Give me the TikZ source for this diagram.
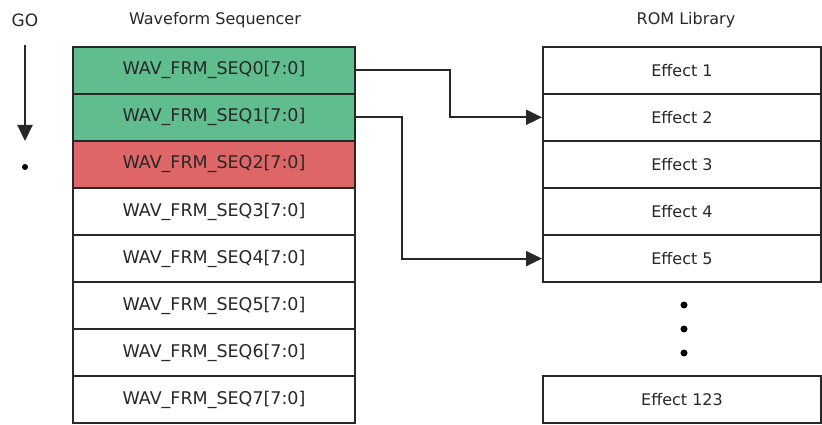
\documentclass[tikz,border=0pt]{standalone}
\usepackage{fontspec}
\setmainfont{DejaVu Sans}
\usetikzlibrary{arrows.meta}
\definecolor{seqgreen}{RGB}{96,190,142}
\definecolor{seqred}{RGB}{222,102,102}
\definecolor{ink}{RGB}{40,40,40}
\begin{document}
\begin{tikzpicture}[x=1pt,y=-1pt,
  cell/.style={draw=ink,line width=2pt,minimum width=282pt,minimum height=47pt,
    inner sep=0pt,font=\fontsize{17.5}{20}\selectfont,text=ink},
  rcell/.style={cell,minimum width=278pt,font=\fontsize{16}{19}\selectfont},
  title/.style={font=\fontsize{16}{19}\selectfont,text=ink},
  link/.style={draw=ink,line width=2pt,-{Triangle[length=16pt,width=15pt]}},
  dotmark/.style={circle,fill=black,inner sep=0pt,minimum size=7pt}]
\useasboundingbox (0,0) rectangle (822,425);
\fill[white] (0,0) rectangle (822,425);
% titles
\node[title,font=\fontsize{17}{20}\selectfont] (go) at (25,20) {GO};
\node[title] (wstitle) at (215,20) {Waveform Sequencer};
\node[title] (romtitle) at (686,20) {ROM Library};
% sequencer
\node[cell,fill=seqgreen] (s0) at (214,70.2) {WAV\_FRM\_SEQ0[7:0]};
\node[cell,fill=seqgreen] (s1) at (214,117.3) {WAV\_FRM\_SEQ1[7:0]};
\node[cell,fill=seqred] (s2) at (214,164.4) {WAV\_FRM\_SEQ2[7:0]};
\node[cell,fill=white] (s3) at (214,211.5) {WAV\_FRM\_SEQ3[7:0]};
\node[cell,fill=white] (s4) at (214,258.6) {WAV\_FRM\_SEQ4[7:0]};
\node[cell,fill=white] (s5) at (214,305.7) {WAV\_FRM\_SEQ5[7:0]};
\node[cell,fill=white] (s6) at (214,352.8) {WAV\_FRM\_SEQ6[7:0]};
\node[cell,fill=white] (s7) at (214,399.9) {WAV\_FRM\_SEQ7[7:0]};
% ROM library
\node[rcell] (e1) at (682,70.2) {Effect 1};
\node[rcell] (e2) at (682,117.3) {Effect 2};
\node[rcell] (e3) at (682,164.4) {Effect 3};
\node[rcell] (e4) at (682,211.5) {Effect 4};
\node[rcell] (e5) at (682,258.6) {Effect 5};
\node[rcell] (e123) at (682,399.5) {Effect 123};
\node[dotmark] (d1) at (684,305) {};
\node[dotmark] (d2) at (684,329) {};
\node[dotmark] (d3) at (684,353) {};
% GO arrow
\coordinate (gotop) at (25,45);
\coordinate (gobot) at (25,141);
\draw[draw=ink,line width=2pt,-{Triangle[length=16pt,width=15pt]}] (gotop) -- (gobot);
\node[dotmark,minimum size=6pt] (godot) at (25,167) {};
% connectors
\draw[link] (s0.east) -- (450,70.2) |- (e2.west);
\draw[link] (s1.east) -- (402,117.3) |- (e5.west);
\end{tikzpicture}
\end{document}
